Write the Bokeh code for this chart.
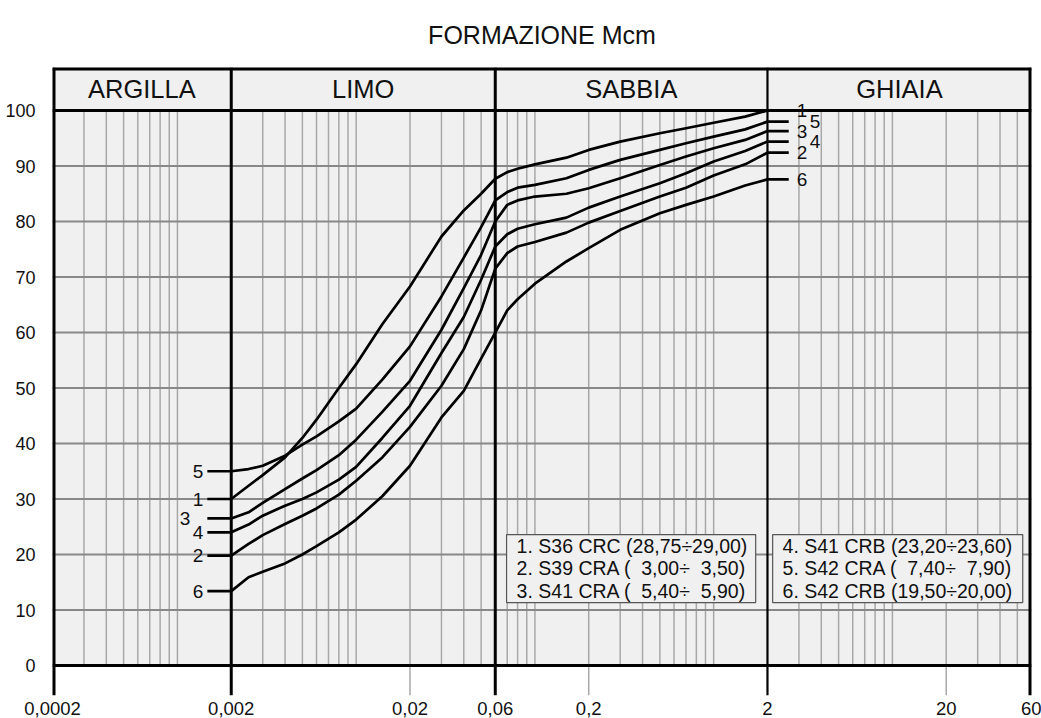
import numpy as np
from bokeh.plotting import figure
from bokeh.models import Range1d, FixedTicker, ColumnDataSource
from bokeh.core.properties import value
from bokeh.embed import file_html
from bokeh.resources import INLINE

# ---------------- data ----------------
chart_title = "FORMAZIONE Mcm"
zone_names = ["ARGILLA", "LIMO", "SABBIA", "GHIAIA"]
zone_bounds = [0.0002, 0.002, 0.06, 2, 60]
x_ticks = [0.0002, 0.002, 0.02, 0.06, 0.2, 2, 20, 60]
x_tick_labels = ["0,0002", "0,002", "0,02", "0,06", "0,2", "2", "20", "60"]
y_ticks = [0, 10, 20, 30, 40, 50, 60, 70, 80, 90, 100]

diam = [0.002, 0.0025, 0.003, 0.004, 0.005, 0.006, 0.008, 0.01, 0.014, 0.02,
        0.03, 0.04, 0.05, 0.06, 0.07, 0.08, 0.1, 0.15, 0.2, 0.3, 0.5, 0.7,
        1, 1.5, 2]
pass_1 = [30, 32.4, 34.3, 37.5, 41, 44.3, 50, 54.3, 61.5, 68.3, 77.3, 82, 85,
          87.7, 88.9, 89.5, 90.3, 91.5, 92.9, 94.4, 95.9, 96.8, 97.8, 98.9, 100]
pass_2 = [19.8, 21.9, 23.5, 25.5, 27, 28.3, 30.8, 33.3, 37.5, 43, 50.4, 57, 64,
          71.5, 74.3, 75.5, 76.3, 78, 79.8, 81.9, 84.5, 86.1, 88.3, 90.3, 92.4]
pass_3 = [26.5, 27.6, 29.3, 31.8, 33.7, 35.2, 37.9, 40.7, 45.7, 51.3, 60.5, 68,
          74, 80, 83, 83.8, 84.5, 85, 86, 87.8, 90.2, 91.7, 93.2, 94.7, 96.3]
pass_4 = [24, 25.4, 27, 28.8, 30, 31.2, 33.5, 35.8, 41, 46.8, 56.3, 62.8, 69.5,
          75.5, 77.7, 78.7, 79.5, 80.7, 82.5, 84.5, 86.9, 88.7, 90.8, 92.7, 94.4]
pass_5 = [35, 35.4, 36, 37.8, 39.8, 41.3, 44, 46.3, 51.5, 57.5, 66.5, 73.5, 79,
          83.8, 85.3, 86.1, 86.6, 87.8, 89.3, 91.1, 92.9, 94.1, 95.3, 96.6, 98]
pass_6 = [13.4, 15.9, 16.9, 18.4, 20, 21.5, 24, 26.3, 30.5, 36, 44.7, 49.5,
          55.3, 60, 64, 66, 68.8, 72.8, 75.2, 78.5, 81.5, 83, 84.5, 86.5, 87.6]
curve_ids = ["1", "2", "3", "4", "5", "6"]
NB = "\u00a0"
legend_labels = ["1. S36 CRC (28,75÷29,00)",
                 "2. S39 CRA (" + NB + " 3,00÷" + NB + " 3,50)",
                 "3. S41 CRA (" + NB + " 5,40÷" + NB + " 5,90)",
                 "4. S41 CRB (23,20÷23,60)",
                 "5. S42 CRA (" + NB + " 7,40÷" + NB + " 7,90)",
                 "6. S42 CRB (19,50÷20,00)"]
series = [pass_1, pass_2, pass_3, pass_4, pass_5, pass_6]

# ---------------- layout / style constants ----------------
FONT = "Liberation Sans"
X_MIN, X_MAX = zone_bounds[0], zone_bounds[-1]
Y_TOP = 107.75          # top of the header band
Y_BOT = -5.4            # depth of tick marks below the axis
HEADER_BASE = 100
STUB_LEFT = 0.00147
STUB_RIGHT = 2.63
BG = "#f0f0f0"
INK = "#111111"

p = figure(width=1041, height=718, x_axis_type="log",
           x_range=Range1d(X_MIN, X_MAX), y_range=Range1d(Y_BOT, Y_TOP),
           output_backend="svg", toolbar_location=None,
           min_border_left=52, min_border_right=10,
           min_border_top=67, min_border_bottom=23,
           background_fill_color="white", border_fill_color="white",
           outline_line_color=None)

p.title.text = chart_title
p.title.align = "center"
p.title.vertical_align = "top"
p.title.text_font = FONT
p.title.text_font_size = "25px"
p.title.text_font_style = "normal"
p.title.text_color = INK
p.title.standoff = 34

p.xgrid.grid_line_color = None
p.ygrid.grid_line_color = None

# background panel (plot + header band)
p.quad(left=[X_MIN], right=[X_MAX], bottom=[0], top=[Y_TOP],
       fill_color=BG, line_color=None)

# log grid lines
minor = []
for n in range(-4, 2):
    for k in range(1, 10):
        v = k * 10.0 ** n
        if X_MIN < v < X_MAX and not any(np.isclose(v, b) for b in zone_bounds):
            minor.append(v)
p.segment(x0=minor, y0=0, x1=minor, y1=HEADER_BASE,
          line_color="#a8a8a8", line_width=1.5)
hgrid = [t for t in y_ticks if 0 < t < 100]
p.segment(x0=X_MIN, y0=hgrid, x1=X_MAX, y1=hgrid,
          line_color="#888888", line_width=2)

# tick marks below the axis (grey for secondary ticks)
grey_ticks = [t for t in x_ticks if not any(np.isclose(t, b) for b in zone_bounds)]
p.segment(x0=grey_ticks, y0=Y_BOT, x1=grey_ticks, y1=0,
          line_color="#a8a8a8", line_width=1.5)

# black frame / zone dividers
inner = zone_bounds[1:-1]
p.segment(x0=inner[:2], y0=Y_BOT, x1=inner[:2], y1=Y_TOP,
          line_color="black", line_width=3)
p.segment(x0=inner[2:], y0=Y_BOT, x1=inner[2:], y1=Y_TOP,
          line_color="black", line_width=2.2)
edges = [zone_bounds[0], zone_bounds[-1]]
p.segment(x0=edges, y0=Y_BOT, x1=edges, y1=Y_TOP,
          line_color="black", line_width=6)
p.segment(x0=X_MIN, y0=[0, HEADER_BASE], x1=X_MAX, y1=[0, HEADER_BASE],
          line_color="black", line_width=3)
p.segment(x0=X_MIN, y0=[Y_TOP], x1=X_MAX, y1=[Y_TOP],
          line_color="black", line_width=6)

# header labels
zone_centers = [np.sqrt(a * b) for a, b in zip(zone_bounds[:-1], zone_bounds[1:])]
p.text(x=zone_centers, y=(HEADER_BASE + Y_TOP) / 2, text=zone_names,
       text_font=value(FONT), text_font_size="25.5px", text_color=INK,
       text_align="center", text_baseline="middle")

# curves
for vals in series:
    xs = [STUB_LEFT] + diam
    ys = [vals[0]] + vals
    if vals[-1] < 100:
        xs = xs + [STUB_RIGHT]
        ys = ys + [vals[-1]]
    p.line(xs, ys, line_color="black", line_width=2.7, line_join="round")

# curve labels
firsts = [s[0] for s in series]
lasts = [s[-1] for s in series]
left_dx = [-4, -4, -17, -4, -4, -4]
right_dx = [8, 8, 8, 21, 21, 8]
p.text(source=ColumnDataSource(dict(x=[STUB_LEFT] * 6, y=firsts, t=curve_ids, dx=left_dx)),
       x="x", y="y", text="t", x_offset="dx",
       text_font=value(FONT), text_font_size="19px", text_color=INK,
       text_align="right", text_baseline="middle")
p.text(source=ColumnDataSource(dict(x=[STUB_RIGHT] * 6, y=lasts, t=curve_ids, dx=right_dx)),
       x="x", y="y", text="t", x_offset="dx",
       text_font=value(FONT), text_font_size="19px", text_color=INK,
       text_align="left", text_baseline="middle")

# legend boxes
box_left = [0.0694, 2.138]
box_right = [1.718, 53.6]
p.quad(left=box_left, right=box_right, bottom=11.35, top=23.6,
       fill_color=BG, line_color="#555555", line_width=1.2)
text_x = [0.079, 0.079, 0.079, 2.43, 2.43, 2.43]
text_y = [21.5, 17.6, 13.5, 21.5, 17.6, 13.5]
p.text(x=text_x, y=text_y, text=legend_labels,
       text_font=value(FONT), text_font_size="19.5px", text_color=INK,
       text_align="left", text_baseline="middle")

# axes
p.xaxis.ticker = FixedTicker(ticks=x_ticks, minor_ticks=[])
p.xaxis.major_label_overrides = {t: l for t, l in zip(x_ticks, x_tick_labels)}
p.xaxis.axis_line_color = None
p.xaxis.major_tick_line_color = None
p.xaxis.minor_tick_line_color = None
p.xaxis.major_label_standoff = 0
p.xaxis.major_label_text_font = FONT
p.xaxis.major_label_text_font_size = "18.5px"
p.xaxis.major_label_text_color = INK

p.yaxis.ticker = FixedTicker(ticks=y_ticks, minor_ticks=[])
p.yaxis.axis_line_color = None
p.yaxis.major_tick_line_color = None
p.yaxis.minor_tick_line_color = None
p.yaxis.major_label_standoff = 11
p.yaxis.major_label_text_font = FONT
p.yaxis.major_label_text_font_size = "18px"
p.yaxis.major_label_text_color = INK

open("out.html", "w").write(file_html(p, INLINE))
